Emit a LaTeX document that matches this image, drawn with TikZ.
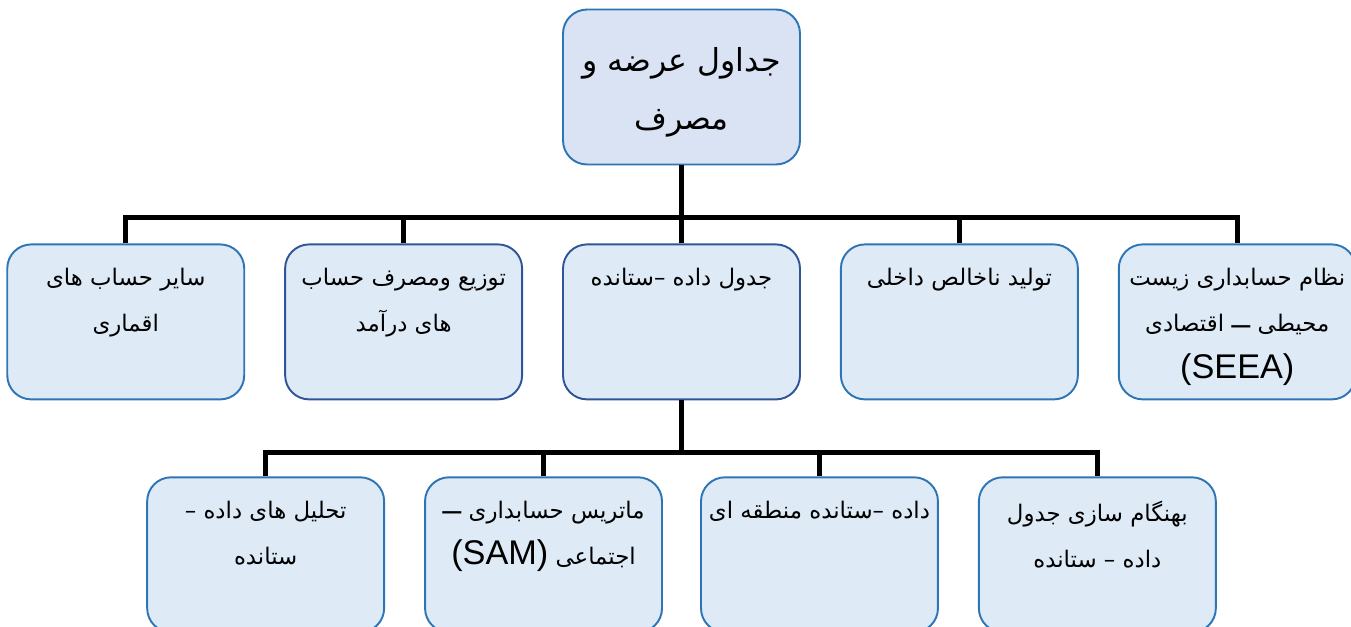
\documentclass[tikz,border=0pt]{standalone}
\usepackage{fontspec}
\usetikzlibrary{positioning}
\TeXXeTstate=1
\newfontfamily\arabicfont[Script=Arabic]{DejaVu Sans}
\newfontfamily\latinfont{Liberation Sans}
\newcommand{\rl}[1]{\beginR #1\endR}
\newcommand{\ltr}[1]{\beginL{\latinfont\fontsize{19.5}{27}\selectfont #1}\endL}
\newcommand{\bigdash}{\raisebox{-2pt}{\latinfont\fontsize{19.5}{27}\selectfont –}}
\definecolor{boxfill}{HTML}{DEEBF7}
\definecolor{topfill}{HTML}{DAE3F3}
\definecolor{boxblue}{HTML}{2E75B6}
\definecolor{boxnavy}{HTML}{2F5597}

\begin{document}
\begin{tikzpicture}[x=0.02cm, y=-0.02cm,
node distance= 1.56cm and 0.78cm,
box/.style = {draw=boxblue, fill=boxfill, line width=1.1pt,
              rounded corners=0.48cm,
              minimum width=4.74cm, minimum height=3.1cm},
darkbox/.style = {box, draw=boxnavy},
topbox/.style = {box, fill=topfill},
lbl/.style = {anchor=north, align=center, inner sep=0pt, yshift=-0.48cm,
              font=\arabicfont\fontsize{13}{26.5}\selectfont},
toplbl/.style = {lbl, yshift=-0.3cm,
              font=\arabicfont\fontsize{18}{33}\selectfont},
link/.style = {line width=2.6pt, draw=black},
                    ]
\useasboundingbox (0,0) rectangle (1351,626);
\clip (0,0) rectangle (1351,626);

\node[topbox]                  (sut)  at (681.5,87) {};
\node[darkbox,below=of sut]    (io)   {};
\node[box,right=of io]         (gdp)  {};
\node[box,right=of gdp]        (seea) {};
\node[darkbox,left=of io]      (inc)  {};
\node[box,left=of inc]         (sat)  {};

\node[box,below=1.52cm of io,xshift=-2.76cm] (sam) {};
\node[box,below=1.52cm of io,xshift=2.76cm]  (reg) {};
\node[box,left=of sam]         (ana)  {};
\node[box,right=of reg]        (upd)  {};

\node[toplbl] (sut-t)  at (sut.north)  {\rl{جداول عرضه و}\\ \rl{مصرف}};
\node[lbl]    (sat-t)  at (sat.north)  {\rl{سایر حساب های}\\ \rl{اقماری}};
\node[lbl]    (inc-t)  at (inc.north)  {\rl{توزیع ومصرف حساب}\\ \rl{های درآمد}};
\node[lbl]    (io-t)   at (io.north)   {\rl{جدول داده –\relax ستانده}};
\node[lbl]    (gdp-t)  at (gdp.north)  {\rl{تولید ناخالص داخلی}};
\node[lbl]    (seea-t) at (seea.north) {\rl{نظام حسابداری زیست}\\
                                        \rl{محیطی \bigdash{} اقتصادی}\\
                                        \ltr{(SEEA)}};
\node[lbl]    (ana-t)  at (ana.north)  {\rl{تحلیل های داده –}\\ \rl{ستانده}};
\node[lbl]    (sam-t)  at (sam.north)  {\rl{ماتریس حسابداری \bigdash}\\
                                        \rl{اجتماعی \ltr{(SAM)}}};
\node[lbl]    (reg-t)  at (reg.north)  {\rl{داده –\relax ستانده منطقه ای}};
\node[lbl]    (upd-t)  at (upd.north)  {\rl{بهنگام سازی جدول}\\ \rl{داده – ستانده}};

\draw[link]    (sut.south) -- ++(0,52) coordinate (bus1);
\draw[link]    (sat.north) |- (bus1) -| (seea.north);
\draw[link]    (inc.north) -- (inc.north |- bus1);
\draw[link]    (io.north)  -- (io.north |- bus1);
\draw[link]    (gdp.north) -- (gdp.north |- bus1);

\draw[link]    (io.south) -- ++(0,52) coordinate (bus2);
\draw[link]    (ana.north) |- (bus2) -| (upd.north);
\draw[link]    (sam.north) -- (sam.north |- bus2);
\draw[link]    (reg.north) -- (reg.north |- bus2);
\end{tikzpicture}
\end{document}
